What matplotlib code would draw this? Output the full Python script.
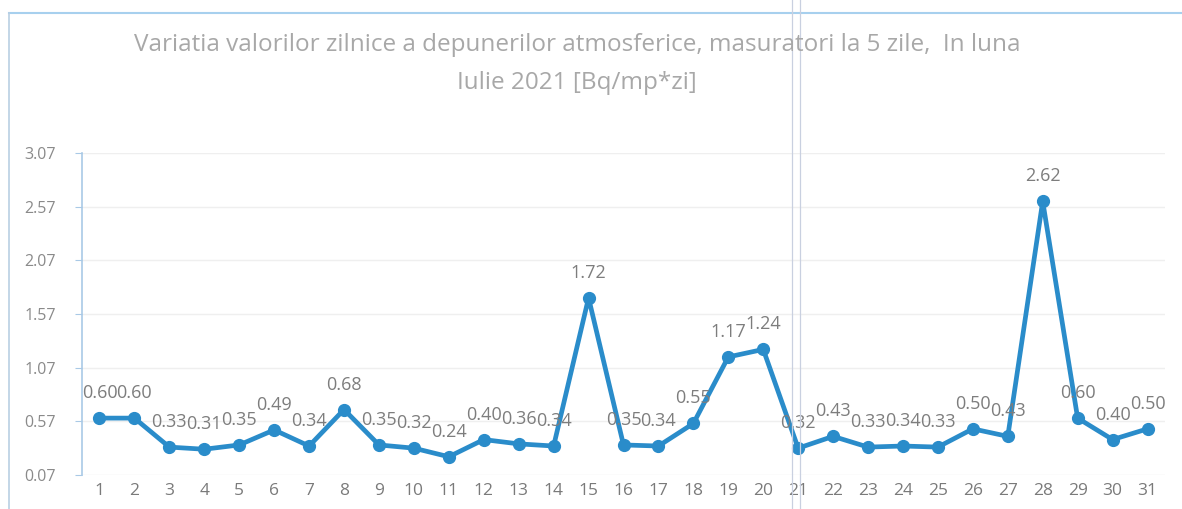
import numpy as np
import matplotlib.pyplot as plt
from matplotlib.lines import Line2D

plt.rcParams['font.family'] = ['Open Sans', 'DejaVu Sans']

# Daily atmospheric deposition values, July 2021
days = list(range(1, 32))
values = [0.60, 0.60, 0.33, 0.31, 0.35, 0.49, 0.34, 0.68, 0.35, 0.32,
          0.24, 0.40, 0.36, 0.34, 1.72, 0.35, 0.34, 0.55, 1.17, 1.24,
          0.32, 0.43, 0.33, 0.34, 0.33, 0.50, 0.43, 2.62, 0.60, 0.40,
          0.50]
yticks = [0.07, 0.57, 1.07, 1.57, 2.07, 2.57, 3.07]

title = ("Variatia valorilor zilnice a depunerilor atmosferice, masuratori la 5 zile,  In luna\n"
         "Iulie 2021 [Bq/mp*zi]")

line_color = '#2a8cca'
text_grey = '#8a8a8a'

fig = plt.figure(figsize=(11.82, 5.09), dpi=100)
ax = fig.add_axes([0.0694, 0.0668, 0.9162, 0.6326])

ax.plot(days, values, color=line_color, lw=3.4, marker='o', ms=8.5,
        markerfacecolor=line_color, markeredgecolor=line_color, zorder=3)

for d, v in zip(days, values):
    ax.annotate(f"{v:.2f}", (d, v), xytext=(0, 18), textcoords='offset points',
                ha='center', va='center', fontsize=13, color='#7d7d7d', zorder=4)

ax.set_xlim(0.5, 31.5)
ax.set_ylim(yticks[0], yticks[-1])
ax.set_xticks(days)
ax.set_xticklabels([str(d) for d in days])
ax.set_yticks(yticks)
ax.set_yticklabels([f"{t:.2f}" for t in yticks])
ax.grid(axis='y', color='#efefef', lw=1)
ax.set_axisbelow(True)

for s in ['top', 'right', 'bottom']:
    ax.spines[s].set_visible(False)
ax.spines['left'].set_color('#a9c9e6')
ax.spines['left'].set_linewidth(1.2)
ax.tick_params(axis='y', length=5, color='#a9c9e6', labelsize=11.5,
               labelcolor=text_grey, pad=14)
ax.tick_params(axis='x', length=0, labelsize=12.5, labelcolor='#7a7a7a', pad=6)

fig.text(0.488, 0.936, title, ha='center', va='top', fontsize=17.5,
         color='#a8a8a8', linespacing=1.8)

# outer chart frame (top and left edges)
fig.add_artist(Line2D([0.008, 1.0], [0.975, 0.975], color='#a7d0ee', lw=1.5))
fig.add_artist(Line2D([0.008, 0.008], [0.0, 0.975], color='#b9cfe3', lw=1.2))

# faint vertical streaks
for xv in [792, 800]:
    fig.add_artist(Line2D([xv / 1182, xv / 1182], [0, 1], color='#c9d0e0', lw=0.9))

fig.savefig('out.png', dpi=100)
